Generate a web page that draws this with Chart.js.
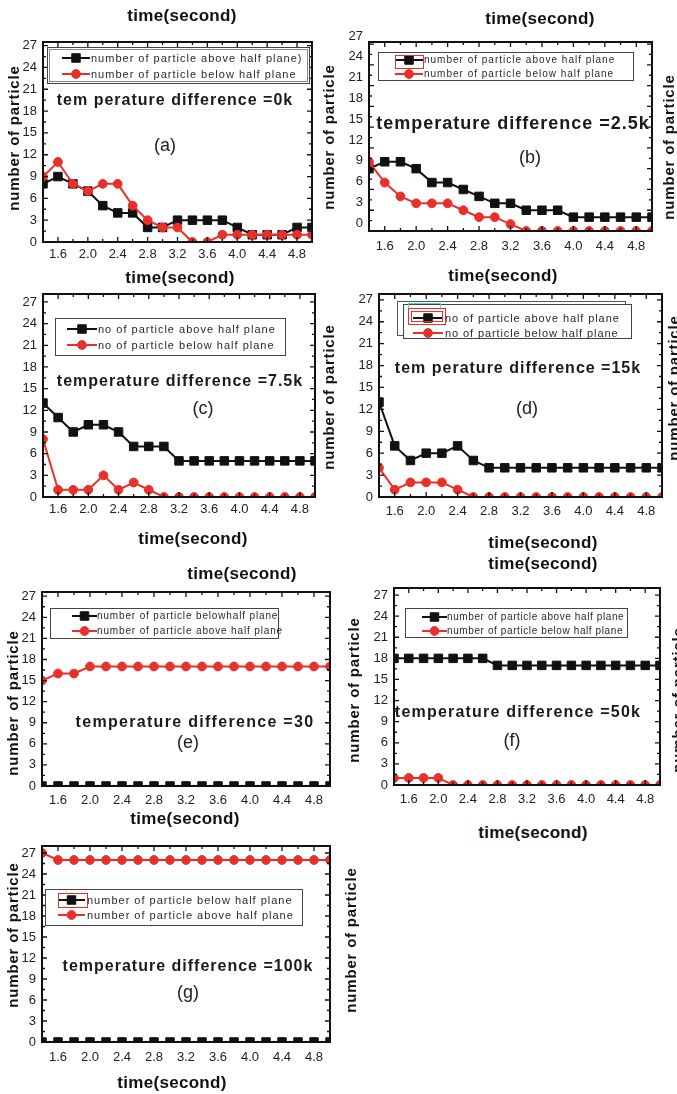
<!DOCTYPE html>
<html>
<head>
<meta charset="utf-8">
<script src="https://cdn.jsdelivr.net/npm/chart.js@4.4.1/dist/chart.umd.min.js"></script>
<style>
  html, body { margin: 0; padding: 0; background: #fff; }
  body { position: relative; width: 677px; height: 1094px; overflow: hidden;
         font-family: "Liberation Sans", Arial, sans-serif; color: #111; }
  canvas { position: absolute; }
  .t { position: absolute; white-space: nowrap; transform: translate(-50%, -50%); line-height: 1; }
  .ax { font-weight: bold; font-size: 17px; letter-spacing: 0.3px; }
  .yt { font-weight: bold; font-size: 15px; letter-spacing: 0.8px; transform: translate(-50%, -50%) rotate(-90deg); }
  .td { font-weight: bold; font-size: 16px; letter-spacing: 1px; color: #1a1a1a; }
  .pl { font-size: 18px; color: #222; }
</style>
</head>
<body>
<script>
// Sampling times (s) shared by every panel
const times = [1.4, 1.6, 1.8, 2.0, 2.2, 2.4, 2.6, 2.8, 3.0, 3.2, 3.4, 3.6, 3.8, 4.0, 4.2, 4.4, 4.6, 4.8, 5.0];
const xTickLabels = ['1.6', '2.0', '2.4', '2.8', '3.2', '3.6', '4.0', '4.4', '4.8'];
const yTickLabels = ['0', '3', '6', '9', '12', '15', '18', '21', '24', '27'];

// (a) temperature difference 0 K
const aAbove = [8, 9, 8, 7, 5, 4, 4, 2, 2, 3, 3, 3, 3, 2, 1, 1, 1, 2, 2];
const aBelow = [9, 11, 8, 7, 8, 8, 5, 3, 2, 2, 0, 0, 1, 1, 1, 1, 1, 1, 1];
// (b) 2.5 K
const bAbove = [9, 10, 10, 9, 7, 7, 6, 5, 4, 4, 3, 3, 3, 2, 2, 2, 2, 2, 2];
const bBelow = [10, 7, 5, 4, 4, 4, 3, 2, 2, 1, 0, 0, 0, 0, 0, 0, 0, 0, 0];
// (c) 7.5 K
const cAbove = [13, 11, 9, 10, 10, 9, 7, 7, 7, 5, 5, 5, 5, 5, 5, 5, 5, 5, 5];
const cBelow = [8, 1, 1, 1, 3, 1, 2, 1, 0, 0, 0, 0, 0, 0, 0, 0, 0, 0, 0];
// (d) 15 K
const dAbove = [13, 7, 5, 6, 6, 7, 5, 4, 4, 4, 4, 4, 4, 4, 4, 4, 4, 4, 4];
const dBelow = [4, 1, 2, 2, 2, 1, 0, 0, 0, 0, 0, 0, 0, 0, 0, 0, 0, 0, 0];
// (e) 30 K
const eBelow = [0, 0, 0, 0, 0, 0, 0, 0, 0, 0, 0, 0, 0, 0, 0, 0, 0, 0, 0];
const eAbove = [15, 16, 16, 17, 17, 17, 17, 17, 17, 17, 17, 17, 17, 17, 17, 17, 17, 17, 17];
// (f) 50 K
const fAbove = [18, 18, 18, 18, 18, 18, 18, 17, 17, 17, 17, 17, 17, 17, 17, 17, 17, 17, 17];
const fBelow = [1, 1, 1, 1, 0, 0, 0, 0, 0, 0, 0, 0, 0, 0, 0, 0, 0, 0, 0];
// (g) 100 K
const gBelow = [0, 0, 0, 0, 0, 0, 0, 0, 0, 0, 0, 0, 0, 0, 0, 0, 0, 0, 0];
const gAbove = [27, 26, 26, 26, 26, 26, 26, 26, 26, 26, 26, 26, 26, 26, 26, 26, 26, 26, 26];

const BLACK = '#111111';
const RED = '#e8302a';
const STYLE = {
  black: { color: BLACK, pointStyle: 'rect', radius: 6, order: 1 },
  red:   { color: RED, pointStyle: 'circle', radius: 4.4, order: 0 }
};

// Panel layout: plot frame in page pixels, legend geometry, axis quirks
const panels = [
  { frame: { l: 43, r: 312, t: 42, b: 242 }, yMax: 27.5, yShift: 0, xPad: 5,
    series: [
      { label: 'number of particle above half plane)', values: aAbove, kind: 'black' },
      { label: 'number of particle below half plane', values: aBelow, kind: 'red' } ],
    legend: { box: [47, 47, 262, 36], double: true, rows: [58, 74], line: [62, 90], textX: 91, font: 11, spacing: 1, extras: [] } },
  { frame: { l: 369, r: 652, t: 42, b: 231 }, yMax: 27.3, yShift: -8, xPad: 8,
    series: [
      { label: 'number of particle above half plane', values: bAbove, kind: 'black' },
      { label: 'number of particle below half plane', values: bBelow, kind: 'red' } ],
    legend: { box: [378, 52, 255, 28], rows: [60, 74], line: [395, 423], textX: 424, font: 10, spacing: 1,
      extras: [{ r: [395, 55, 28, 13], c: RED }] } },
  { frame: { l: 43, r: 315, t: 294, b: 497 }, yMax: 28.1, yShift: 0, xPad: 5,
    series: [
      { label: 'no of particle above half plane', values: cAbove, kind: 'black' },
      { label: 'no of particle below half plane', values: cBelow, kind: 'red' } ],
    legend: { box: [55, 318, 230, 37], rows: [329, 345], line: [67, 97], textX: 98, font: 11, spacing: 1, extras: [] } },
  { frame: { l: 379, r: 662, t: 294, b: 497 }, yMax: 27.8, yShift: 0, xPad: 7,
    series: [
      { label: 'no of particle above half plane', values: dAbove, kind: 'black' },
      { label: 'no of particle below half plane', values: dBelow, kind: 'red' } ],
    legend: { box: [403, 304, 228, 34], back: [397, 301, 228, 34], rows: [318, 333], line: [413, 443], textX: 445, font: 11, spacing: 0.9,
      extras: [{ r: [408, 303, 32, 5], c: '#5fd0d0' }, { r: [408, 308, 37, 16], c: RED }, { r: [411, 311, 31, 10], c: RED }] } },
  { frame: { l: 42, r: 330, t: 592, b: 786 }, yMax: 27.6, yShift: 0, xPad: 7,
    series: [
      { label: 'number of particle belowhalf plane', values: eBelow, kind: 'black' },
      { label: 'number of particle above half plane', values: eAbove, kind: 'red' } ],
    legend: { box: [50, 608, 228, 30], rows: [616, 631], line: [72, 97], textX: 97, font: 10, spacing: 0.85, extras: [] } },
  { frame: { l: 394, r: 660, t: 588, b: 785 }, yMax: 28, yShift: 0, xPad: 7,
    series: [
      { label: 'number of particle above half plane', values: fAbove, kind: 'black' },
      { label: 'number of particle below half plane', values: fBelow, kind: 'red' } ],
    legend: { box: [405, 608, 222, 29], rows: [617, 631], line: [422, 447], textX: 447, font: 10, spacing: 0.6, extras: [] } },
  { frame: { l: 42, r: 330, t: 846, b: 1042 }, yMax: 28, yShift: 0, xPad: 8,
    series: [
      { label: 'number of particle below half plane', values: gBelow, kind: 'black' },
      { label: 'number of particle above half plane', values: gAbove, kind: 'red' } ],
    legend: { box: [45, 889, 257, 36], rows: [900, 915], line: [58, 85], textX: 87, font: 11, spacing: 1,
      extras: [{ r: [58, 893, 29, 14], c: RED }] } }
];

// Box frame with inward major/minor ticks on all four sides
const framePlugin = {
  id: 'frameBox',
  afterDatasetsDraw(chart) {
    const { ctx, chartArea: a, scales: { x, y } } = chart;
    ctx.save();
    ctx.strokeStyle = BLACK;
    ctx.lineWidth = 1.3;
    ctx.beginPath();
    times.forEach(t => {
      const px = x.getPixelForValue(t);
      const major = xTickLabels.some(l => Math.abs(parseFloat(l) - t) < 1e-6);
      const len = major ? 5 : 3;
      ctx.moveTo(px, a.bottom); ctx.lineTo(px, a.bottom - len);
      ctx.moveTo(px, a.top); ctx.lineTo(px, a.top + len);
    });
    yTickLabels.forEach(l => {
      const v = parseFloat(l);
      [[v, 5], [v + 1.5, 3]].forEach(([val, len]) => {
        if (val > y.max) return;
        const py = y.getPixelForValue(val);
        ctx.moveTo(a.left, py); ctx.lineTo(a.left + len, py);
        ctx.moveTo(a.right, py); ctx.lineTo(a.right - len, py);
      });
    });
    ctx.stroke();
    ctx.lineWidth = 2;
    ctx.strokeRect(a.left, a.top, a.right - a.left, a.bottom - a.top);
    ctx.restore();
  }
};

function drawMarker(ctx, style, x, y, r) {
  ctx.beginPath();
  if (style === 'rect') {
    const s = r * Math.SQRT1_2;
    ctx.rect(x - s, y - s, 2 * s, 2 * s);
  } else {
    ctx.arc(x, y, r, 0, Math.PI * 2);
  }
  ctx.fill();
  ctx.stroke();
}

// Boxed legend placed inside the plot area
const boxLegendPlugin = {
  id: 'boxLegend',
  afterDraw(chart, args, o) {
    if (!o || !o.box) return;
    const ctx = chart.ctx;
    const ox = o.offset[0], oy = o.offset[1];
    ctx.save();
    ctx.translate(-ox, -oy);
    ctx.lineWidth = 1;
    if (o.back) {
      ctx.fillStyle = '#fff';
      ctx.fillRect(...o.back);
      ctx.strokeStyle = '#555';
      ctx.strokeRect(o.back[0] + 0.5, o.back[1] + 0.5, o.back[2], o.back[3]);
    }
    const [bx, by, bw, bh] = o.box;
    ctx.fillStyle = '#fff';
    ctx.fillRect(bx, by, bw, bh);
    ctx.strokeStyle = '#444';
    ctx.strokeRect(bx + 0.5, by + 0.5, bw, bh);
    if (o.double) {
      ctx.strokeStyle = '#888';
      ctx.strokeRect(bx + 2.5, by + 2.5, bw - 4, bh - 4);
    }
    chart.data.datasets.forEach((ds, i) => {
      const yy = o.rows[i];
      ctx.strokeStyle = ds.borderColor;
      ctx.lineWidth = 2;
      ctx.beginPath();
      ctx.moveTo(o.line[0], yy); ctx.lineTo(o.line[1], yy);
      ctx.stroke();
      ctx.fillStyle = ds.backgroundColor;
      ctx.lineWidth = 1;
      drawMarker(ctx, ds.pointStyle, (o.line[0] + o.line[1]) / 2, yy, ds.pointRadius);
      ctx.fillStyle = '#2a2a2a';
      ctx.font = o.font + 'px "Liberation Sans", Arial, sans-serif';
      ctx.textBaseline = 'middle';
      ctx.textAlign = 'left';
      if ('letterSpacing' in ctx) ctx.letterSpacing = o.spacing + 'px';
      ctx.fillText(ds.label, o.textX, yy + 0.5);
    });
    (o.extras || []).forEach(e => {
      ctx.strokeStyle = e.c;
      ctx.lineWidth = 1;
      ctx.strokeRect(e.r[0] + 0.5, e.r[1] + 0.5, e.r[2], e.r[3]);
    });
    ctx.restore();
  }
};

Chart.register(framePlugin, boxLegendPlugin);

const M = { L: 45, R: 14, T: 22, B: 34 };
const tickFont = { family: '"Liberation Sans", Arial, sans-serif', size: 13 };

panels.forEach(p => {
  const f = p.frame;
  const w = f.r - f.l + M.L + M.R;
  const h = f.b - f.t + M.T + M.B;
  const left = f.l - M.L, top = f.t - M.T;
  const cv = document.createElement('canvas');
  cv.width = w; cv.height = h;
  cv.style.left = left + 'px'; cv.style.top = top + 'px';
  cv.style.width = w + 'px'; cv.style.height = h + 'px';
  document.body.appendChild(cv);

  new Chart(cv, {
    type: 'line',
    data: {
      datasets: p.series.map(s => {
        const st = STYLE[s.kind];
        return {
          label: s.label,
          data: times.map((t, i) => ({ x: t, y: s.values[i] })),
          borderColor: st.color,
          backgroundColor: st.color,
          pointStyle: st.pointStyle,
          pointRadius: st.radius,
          pointBorderWidth: 1,
          borderWidth: 2,
          tension: 0,
          order: st.order
        };
      })
    },
    options: {
      responsive: false,
      animation: false,
      devicePixelRatio: 1,
      layout: { padding: { left: 0, top: M.T, right: M.R, bottom: 0 } },
      plugins: {
        legend: { display: false },
        tooltip: { enabled: false },
        boxLegend: Object.assign({ offset: [left, top] }, p.legend)
      },
      scales: {
        x: {
          type: 'linear', min: 1.4, max: 5.0,
          afterFit(s) { s.height = M.B; },
          afterBuildTicks(s) { s.ticks = xTickLabels.map(l => ({ value: parseFloat(l) })); },
          ticks: { callback: (v, i) => xTickLabels[i], font: tickFont, color: '#222', padding: p.xPad, maxRotation: 0, autoSkip: false },
          grid: { display: false, drawTicks: false },
          border: { display: false }
        },
        y: {
          type: 'linear', min: 0, max: p.yMax,
          afterFit(s) { s.width = M.L; },
          afterBuildTicks(s) { s.ticks = yTickLabels.map(l => ({ value: parseFloat(l) })); },
          ticks: { callback: (v, i) => yTickLabels[i], font: tickFont, color: '#222', padding: 6, labelOffset: p.yShift, autoSkip: false },
          grid: { display: false, drawTicks: false },
          border: { display: false }
        }
      }
    }
  });
});

// Titles and annotations
const texts = [
  ['ax', 'time(second)', 182, 15], ['ax', 'time(second)', 540, 18],
  ['ax', 'time(second)', 180, 277], ['ax', 'time(second)', 503, 275],
  ['ax', 'time(second)', 193, 538], ['ax', 'time(second)', 543, 542],
  ['ax', 'time(second)', 543, 563], ['ax', 'time(second)', 242, 573],
  ['ax', 'time(second)', 185, 818], ['ax', 'time(second)', 533, 832],
  ['ax', 'time(second)', 172, 1082],
  ['yt', 'number of particle', 13, 138], ['yt', 'number of particle', 328, 137],
  ['yt', 'number of particle', 668, 147], ['yt', 'number of particle', 328, 397],
  ['yt', 'number of particle', 673, 388], ['yt', 'number of particle', 12, 703],
  ['yt', 'number of particle', 353, 690], ['yt', 'number of particle', 677, 700],
  ['yt', 'number of particle', 12, 935], ['yt', 'number of particle', 350, 940],
  ['td', 'tem perature difference =0k', 175, 100],
  ['td', 'temperature difference =2.5k', 513, 123, 'font-size:18px'],
  ['td', 'temperature difference =7.5k', 180, 381],
  ['td', 'tem perature difference =15k', 518, 368],
  ['td', 'temperature difference =30', 195, 722, 'letter-spacing:1.3px'],
  ['td', 'temperature difference =50k', 518, 712, 'letter-spacing:1.2px'],
  ['td', 'temperature difference =100k', 188, 966],
  ['pl', '(a)', 165, 145], ['pl', '(b)', 530, 157], ['pl', '(c)', 203, 408],
  ['pl', '(d)', 527, 408], ['pl', '(e)', 188, 742], ['pl', '(f)', 512, 740],
  ['pl', '(g)', 188, 992]
];
texts.forEach(([cls, str, x, y, extra]) => {
  const d = document.createElement('div');
  d.className = 't ' + cls;
  d.textContent = str;
  d.style.left = x + 'px';
  d.style.top = y + 'px';
  if (extra) d.style.cssText += ';' + extra;
  document.body.appendChild(d);
});
</script>
</body>
</html>
